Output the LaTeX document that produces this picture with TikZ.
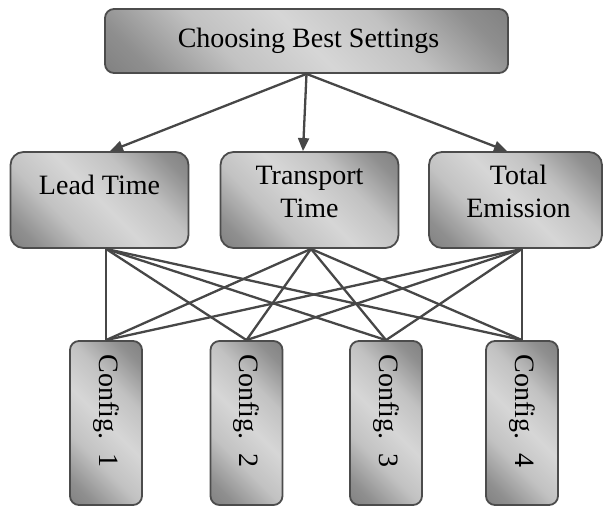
\documentclass[tikz,border=0pt]{standalone}
\usepackage{fontspec}
\setmainfont{Liberation Serif}
\usetikzlibrary{arrows.meta}

\definecolor{shdark}{gray}{0.40}
\definecolor{shmid}{gray}{0.56}
\definecolor{shsoft}{gray}{0.76}
\definecolor{shlight}{gray}{0.84}
\definecolor{edgegray}{gray}{0.3}
\definecolor{linkgray}{gray}{0.28}

% diagonal dark-light-dark band used to fill every box
\pgfdeclarehorizontalshading{grayband}{100bp}{%
  color(0bp)=(shdark); color(22bp)=(shmid); color(36bp)=(shsoft);
  color(50bp)=(shlight); color(64bp)=(shsoft);
  color(78bp)=(shmid); color(100bp)=(shdark)}

\begin{document}
\begin{tikzpicture}[x=1pt,y=-1pt,
  box/.style={draw=edgegray, line width=1.8pt, shading=grayband,
    shading angle=45, inner sep=0pt},
  topbox/.style={box, rounded corners=9pt, minimum width=403pt, minimum height=64pt},
  midbox/.style={box, rounded corners=13pt, minimum width=178pt, minimum height=96pt},
  cfgbox/.style={box, rounded corners=9pt, minimum width=72pt, minimum height=164pt},
  txt/.style={font=\fontsize{28}{33}\selectfont, align=center, inner sep=0pt},
  cfgtxt/.style={txt, rotate=-90},
  link/.style={draw=linkgray, line width=2.3pt},
  arrow/.style={link, -{Triangle[length=13pt,width=11pt]}}]

\useasboundingbox (0,0) rectangle (604,506);

% goal
\node[topbox] (goal) at (306.5,41) {};
\node[txt] (goaltxt) at ([xshift=2pt]goal.center) {Choosing Best Settings};

% criteria
\node[midbox] (lead) at (99.5,200) {};
\node[midbox] (trans) at (309.5,200) {};
\node[midbox, minimum width=173pt] (emis) at (515.5,200) {};
\node[txt] (leadtxt) at ([yshift=15pt]lead.center) {Lead Time};
\node[txt] (transtxt) at ([yshift=8.5pt]trans.center) {Transport\\Time};
\node[txt] (emistxt) at ([xshift=3pt,yshift=8.5pt]emis.center) {Total\\Emission};

% alternatives
\node[cfgbox] (c1) at (106,423) {};
\node[cfgbox] (c2) at (246.5,423) {};
\node[cfgbox] (c3) at (386,423) {};
\node[cfgbox] (c4) at (522,423) {};
\foreach \c/\n in {c1/1, c2/2, c3/3, c4/4}
  \node[cfgtxt] (\c txt) at ([yshift=12pt]\c.center) {Config.\ \ \n};

% goal to criteria
\draw[arrow] (goal.south) -- ([xshift=10.5pt]lead.north);
\draw[arrow] (goal.south) -- ([xshift=-6.5pt]trans.north);
\draw[arrow] (goal.south) -- ([xshift=-8.5pt]emis.north);

% criteria to alternatives
\coordinate (lb) at ([xshift=6.5pt]lead.south);
\coordinate (tb) at ([xshift=1.5pt]trans.south);
\coordinate (eb) at ([xshift=6.5pt]emis.south);
\foreach \s in {lb, tb, eb}
  \foreach \t in {c1, c2, c3, c4}
    \draw[link] (\s) -- (\t.north);
\end{tikzpicture}
\end{document}
